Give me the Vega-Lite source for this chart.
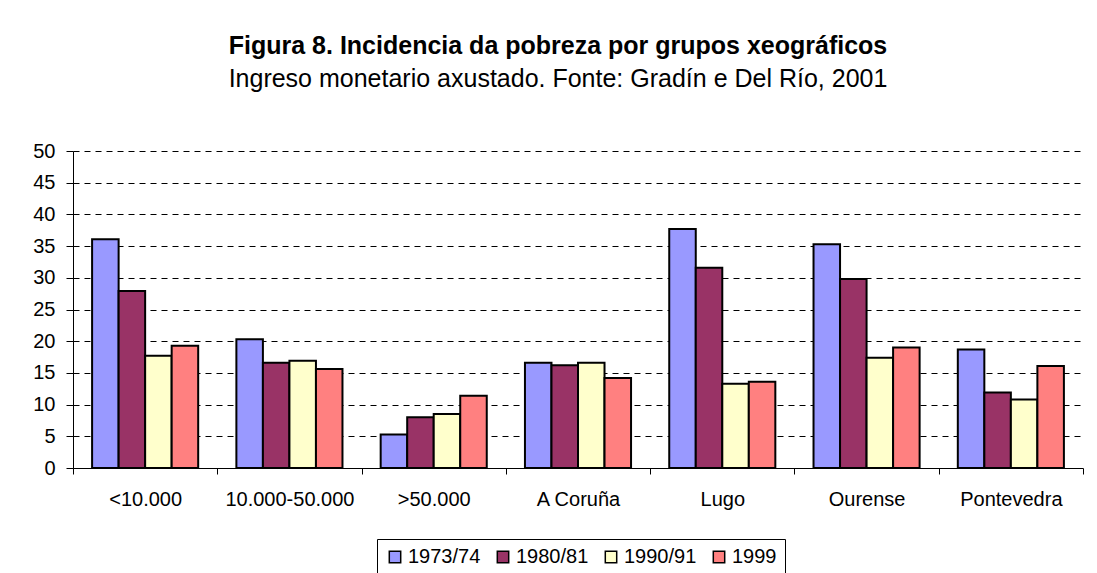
{
  "$schema": "https://vega.github.io/schema/vega-lite/v6.json",
  "autosize": "none",
  "width": 1010,
  "height": 317,
  "padding": {"left": 73, "top": 151, "right": 14, "bottom": 105},
  "background": "white",
  "title": {
    "text": "Figura 8. Incidencia da pobreza por grupos xeográficos",
    "subtitle": "Ingreso monetario axustado. Fonte: Gradín e Del Río, 2001",
    "anchor": "middle",
    "frame": "group",
    "dx": -20,
    "offset": 49,
    "font": "Liberation Sans",
    "fontSize": 25,
    "fontWeight": "bold",
    "color": "black",
    "subtitleFont": "Liberation Sans",
    "subtitleFontSize": 25,
    "subtitleColor": "black",
    "subtitlePadding": 8
  },
  "data": {
    "values": [
      {"grupo": "<10.000", "periodo": "1973/74", "valor": 36.1},
      {"grupo": "<10.000", "periodo": "1980/81", "valor": 27.9},
      {"grupo": "<10.000", "periodo": "1990/91", "valor": 17.7},
      {"grupo": "<10.000", "periodo": "1999", "valor": 19.3},
      {"grupo": "10.000-50.000", "periodo": "1973/74", "valor": 20.3},
      {"grupo": "10.000-50.000", "periodo": "1980/81", "valor": 16.6},
      {"grupo": "10.000-50.000", "periodo": "1990/91", "valor": 16.9},
      {"grupo": "10.000-50.000", "periodo": "1999", "valor": 15.6},
      {"grupo": ">50.000", "periodo": "1973/74", "valor": 5.3},
      {"grupo": ">50.000", "periodo": "1980/81", "valor": 8.0},
      {"grupo": ">50.000", "periodo": "1990/91", "valor": 8.5},
      {"grupo": ">50.000", "periodo": "1999", "valor": 11.4},
      {"grupo": "A Coruña", "periodo": "1973/74", "valor": 16.6},
      {"grupo": "A Coruña", "periodo": "1980/81", "valor": 16.2},
      {"grupo": "A Coruña", "periodo": "1990/91", "valor": 16.6},
      {"grupo": "A Coruña", "periodo": "1999", "valor": 14.2},
      {"grupo": "Lugo", "periodo": "1973/74", "valor": 37.7},
      {"grupo": "Lugo", "periodo": "1980/81", "valor": 31.6},
      {"grupo": "Lugo", "periodo": "1990/91", "valor": 13.3},
      {"grupo": "Lugo", "periodo": "1999", "valor": 13.6},
      {"grupo": "Ourense", "periodo": "1973/74", "valor": 35.3},
      {"grupo": "Ourense", "periodo": "1980/81", "valor": 29.8},
      {"grupo": "Ourense", "periodo": "1990/91", "valor": 17.4},
      {"grupo": "Ourense", "periodo": "1999", "valor": 19.0},
      {"grupo": "Pontevedra", "periodo": "1973/74", "valor": 18.7},
      {"grupo": "Pontevedra", "periodo": "1980/81", "valor": 11.9},
      {"grupo": "Pontevedra", "periodo": "1990/91", "valor": 10.8},
      {"grupo": "Pontevedra", "periodo": "1999", "valor": 16.1}
    ]
  },
  "mark": {"type": "bar", "stroke": "black", "strokeWidth": 2, "strokeJoin": "miter"},
  "encoding": {
    "x": {
      "field": "grupo",
      "type": "nominal",
      "sort": null,
      "title": null,
      "scale": {"paddingInner": 0, "paddingOuter": 0},
      "axis": {
        "labelAngle": 0,
        "tickBand": "extent",
        "tickSize": 6,
        "labelPadding": 15,
        "domainColor": "black",
        "tickColor": "black",
        "labelColor": "black",
        "labelFont": "Liberation Sans",
        "labelFontSize": 20
      }
    },
    "xOffset": {
      "field": "periodo",
      "type": "nominal",
      "sort": ["1973/74", "1980/81", "1990/91", "1999"],
      "scale": {"paddingInner": 0, "paddingOuter": 0.72}
    },
    "y": {
      "field": "valor",
      "type": "quantitative",
      "title": null,
      "scale": {"domain": [0, 50], "nice": false},
      "axis": {
        "values": [0, 5, 10, 15, 20, 25, 30, 35, 40, 45, 50],
        "tickSize": 7,
        "labelPadding": 11,
        "domainColor": "black",
        "tickColor": "black",
        "labelColor": "black",
        "labelFont": "Liberation Sans",
        "labelFontSize": 20,
        "grid": true,
        "gridColor": "black",
        "gridDash": [6, 5],
        "gridWidth": 1
      }
    },
    "color": {
      "field": "periodo",
      "type": "nominal",
      "sort": ["1973/74", "1980/81", "1990/91", "1999"],
      "scale": {
        "domain": ["1973/74", "1980/81", "1990/91", "1999"],
        "range": ["#9999FF", "#993366", "#FFFFCC", "#FF8080"]
      },
      "legend": {
        "title": null,
        "orient": "none",
        "direction": "horizontal",
        "legendX": 304,
        "legendY": 388,
        "padding": 8,
        "strokeColor": "black",
        "symbolType": "square",
        "symbolSize": 130,
        "symbolStrokeColor": "black",
        "symbolStrokeWidth": 1.5,
        "symbolOpacity": 1,
        "labelFont": "Liberation Sans",
        "labelFontSize": 20,
        "labelColor": "black",
        "labelOffset": 3,
        "columnPadding": 12
      }
    }
  },
  "config": {
    "view": {"stroke": null},
    "axis": {"domainWidth": 1, "tickWidth": 1}
  }
}
